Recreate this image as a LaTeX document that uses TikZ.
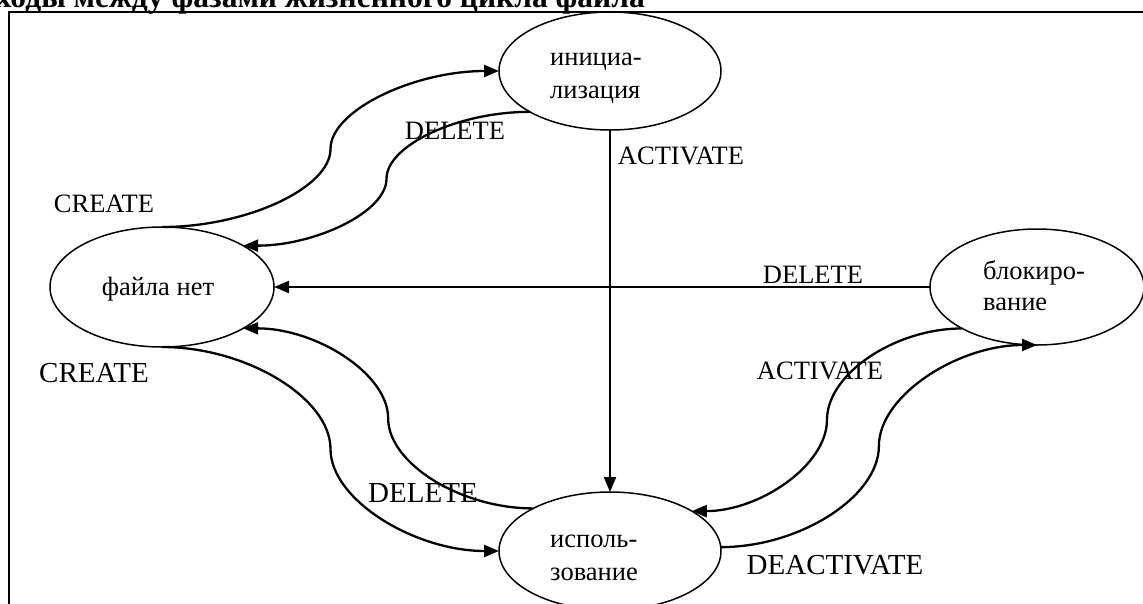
\documentclass[tikz,border=0pt]{standalone}
\usepackage{fontspec}
\setmainfont{Liberation Serif}
\usetikzlibrary{shapes.geometric,arrows.meta,calc}

\newcommand\scurve[3]{%
  \coordinate (sA) at (#1);
  \coordinate (sB) at (#2);
  \coordinate (sM) at ($(sA)!0.5!(sB)$);
  \coordinate (sQa) at ($(sA)!0.5!(sM)$);
  \coordinate (sQb) at ($(sM)!0.5!(sB)$);
  \draw[#3] (sA) .. controls (sQa |- sA) and (sM |- sQa) .. (sM)
                 .. controls (sM |- sQb) and (sQb |- sB) .. (sB);
}
\newcommand\twolines[3]{\vtop{\baselineskip=#3pt\hbox{#1}\hbox{#2}}}

\begin{document}
\begin{tikzpicture}[x=1pt,y=-1pt,
  state/.style={draw, ellipse, line width=1.5pt, inner sep=0pt, outer sep=0pt},
  arr/.style={line width=2.3pt, -{Triangle[length=15pt,width=12pt]}},
  lbl/.style={inner sep=0pt, font=\fontsize{26.5}{30}\selectfont},
  lblbig/.style={inner sep=0pt, font=\fontsize{29}{33}\selectfont},
  ntxt/.style={inner sep=0pt, font=\fontsize{26.5}{32}\selectfont}
]
\useasboundingbox (0,0) rectangle (1143,603);

% title (cut at top)
\node[anchor=base east, inner sep=0pt, font=\fontsize{31.5}{36}\selectfont\bfseries] (title) at (645,7) {Переходы между фазами жизненного цикла файла};

% frame
\draw[line width=1.5pt] (9,615) -- (9,12) -- (1150,12);

% states
\node[state, minimum width=224, minimum height=120] (fn)  at (162,287) {};
\node[state, minimum width=222, minimum height=118] (ini) at (610,71)  {};
\node[state, minimum width=214, minimum height=116] (blk) at (1037,287) {};
\node[state, minimum width=222, minimum height=118] (use) at (610,551) {};

\node[ntxt, anchor=base] (tfn) at (158,295) {файла нет};
\node[ntxt, anchor=base west] (tini) at (550,65) {\twolines{инициа-}{лизация}{33}};
\node[ntxt, anchor=base west] (tblk) at (983,279) {\twolines{блокиро-}{вание}{31}};
\node[ntxt, anchor=base west] (tuse) at (550,547) {\twolines{исполь-}{зование}{33}};

% connectors
\scurve{fn.north}{ini.west}{arr}
\scurve{ini.207}{fn.27}{arr}
\draw[arr, line width=2pt] (ini.south) -- (use.north);
\draw[arr, line width=2pt] (blk.west) -- (fn.east);
\scurve{use.151}{fn.333}{arr}
\scurve{fn.south}{use.west}{arr}
\scurve{blk.209}{use.26}{arr}
\scurve{use.2}{blk.south}{arr}

% labels
\node[lbl] (l1) at (104,203.5) {CREATE};
\node[lbl] (l2) at (455,131) {DELETE};
\node[lbl] (l3) at (681,156) {ACTIVATE};
\node[lbl] (l4) at (813,275) {DELETE};
\node[lbl] (l5) at (820,371) {ACTIVATE};
\node[lblbig] (l6) at (94,373.5) {CREATE};
\node[lblbig] (l7) at (423,493) {DELETE};
\node[lblbig] (l8) at (835,565) {DEACTIVATE};
\end{tikzpicture}
\end{document}
